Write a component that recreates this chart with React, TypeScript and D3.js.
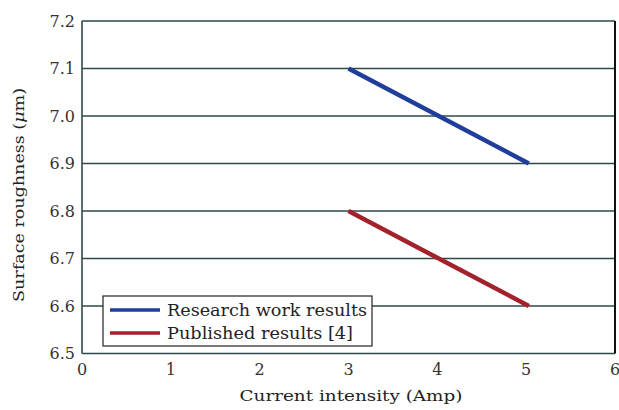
import React from "react";
import * as d3 from "d3";

const xTicks = [0, 1, 2, 3, 4, 5, 6];
const yTicks = [6.5, 6.6, 6.7, 6.8, 6.9, 7.0, 7.1, 7.2];
const researchX = [3, 5.03];
const researchY = [7.1, 6.9];
const publishedX = [3, 5.03];
const publishedY = [6.8, 6.6];
const seriesNames = ["Research work results", "Published results [4]"];
const seriesLens = [200, 186];
const seriesColors = ["#1f3d9a", "#a3212b"];

const W = 619, H = 410;
const left = 82, right = 615, top = 21, bottom = 353.5;

export default function App() {
  const x = d3.scaleLinear().domain([0, 6]).range([left, right]);
  const y = d3.scaleLinear().domain([6.5, 7.2]).range([bottom, top]);
  const line = d3.line<[number, number]>().x(d => x(d[0])).y(d => y(d[1]));
  const series = [
    researchX.map((v, i) => [v, researchY[i]] as [number, number]),
    publishedX.map((v, i) => [v, publishedY[i]] as [number, number]),
  ];
  const font = "'DejaVu Serif', serif";
  return (
    <svg width={W} height={H} style={{ position: "absolute", left: 0, top: 0, background: "#fff" }}>
      {yTicks.map(t => (
        <line key={"g" + t} x1={left} x2={right} y1={y(t)} y2={y(t)} stroke="#2c4a48" strokeWidth={1.6} />
      ))}
      <line x1={left} x2={left} y1={top} y2={bottom} stroke="#2c4a48" strokeWidth={1.6} />
      <line x1={right} x2={right} y1={top} y2={bottom} stroke="#111" strokeWidth={2} />
      {series.map((s, i) => (
        <path key={i} d={line(s) || ""} stroke={seriesColors[i]} strokeWidth={4.5} fill="none" />
      ))}
      {yTicks.map(t => (
        <text key={"y" + t} x={left - 7} y={y(t)} dy="0.35em" textAnchor="end" fontFamily={font} fontSize={16} fill="#333">
          {t.toFixed(1)}
        </text>
      ))}
      {xTicks.map(t => (
        <text key={"x" + t} x={x(t)} y={375} textAnchor="middle" fontFamily={font} fontSize={16} fill="#333">
          {t}
        </text>
      ))}
      <text x={351} y={401} textAnchor="middle" fontFamily={font} fontSize={15} fill="#222" textLength={223} lengthAdjust="spacingAndGlyphs">
        Current intensity (Amp)
      </text>
      <text transform={`translate(24,195) rotate(-90)`} textAnchor="middle" fontFamily={font} fontSize={15} fill="#222" textLength={214} lengthAdjust="spacingAndGlyphs">
        Surface roughness (<tspan fontStyle="italic">μ</tspan>m)
      </text>
      <rect x={103} y={296} width={269} height={50} fill="#fff" stroke="#222" strokeWidth={1.2} />
      {seriesNames.map((n, i) => (
        <g key={n}>
          <line x1={110} x2={160} y1={310 + i * 23} y2={310 + i * 23} stroke={seriesColors[i]} strokeWidth={3.5} />
          <text x={167} y={310 + i * 23} dy="0.35em" fontFamily={font} fontSize={16} fill="#222" textLength={seriesLens[i]} lengthAdjust="spacingAndGlyphs">{n}</text>
        </g>
      ))}
    </svg>
  );
}
